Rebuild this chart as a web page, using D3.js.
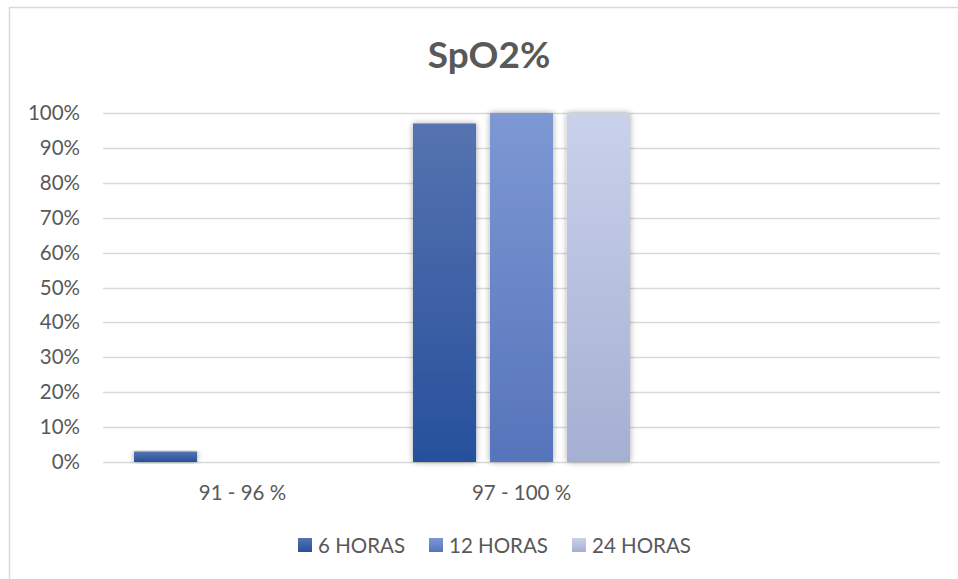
<!DOCTYPE html>
<html>
<head>
<meta charset="utf-8">
<script src="https://cdn.jsdelivr.net/npm/d3@7/dist/d3.min.js"></script>
<style>
  html, body { margin: 0; padding: 0; background: #fff; }
  svg { display: block; }
  text { font-family: Lato, "Open Sans", sans-serif; fill: #595959; }
</style>
</head>
<body>
<svg id="chart" width="958" height="579"></svg>
<script>
const title = "SpO2%";
const categories = ["91 - 96 %", "97 - 100 %", ""];
const seriesNames = ["6 HORAS", "12 HORAS", "24 HORAS"];
const values6h  = [0.03, 0.97, null];
const values12h = [0, 1.00, null];
const values24h = [0, 1.00, null];
const yTicks = [0, 0.1, 0.2, 0.3, 0.4, 0.5, 0.6, 0.7, 0.8, 0.9, 1.0];

const series = [
  { name: seriesNames[0], values: values6h,  top: "#5673b0", bottom: "#27509c" },
  { name: seriesNames[1], values: values12h, top: "#7d98d3", bottom: "#5674bb" },
  { name: seriesNames[2], values: values24h, top: "#c9d1eb", bottom: "#a5afd2" }
];

const svg = d3.select("#chart");
const W = 958, H = 579;
const margin = { left: 103, right: 18, top: 113, bottom: 117 };
const plotW = W - margin.left - margin.right;
const plotH = H - margin.top - margin.bottom;
const FONT = 20.5;

const defs = svg.append("defs");
series.forEach((s, i) => {
  const g = defs.append("linearGradient").attr("id", "grad" + i)
    .attr("x1", 0).attr("y1", 0).attr("x2", 0).attr("y2", 1);
  g.append("stop").attr("offset", "0%").attr("stop-color", s.top);
  g.append("stop").attr("offset", "100%").attr("stop-color", s.bottom);
});
const f = defs.append("filter").attr("id", "shadow")
  .attr("x", "-30%").attr("y", "-10%").attr("width", "160%").attr("height", "120%");
f.append("feGaussianBlur").attr("in", "SourceAlpha").attr("stdDeviation", 3).attr("result", "b");
f.append("feComponentTransfer").attr("in", "b").attr("result", "s")
  .append("feFuncA").attr("type", "linear").attr("slope", 0.35);
const fm = f.append("feMerge");
fm.append("feMergeNode").attr("in", "s");
fm.append("feMergeNode").attr("in", "SourceGraphic");

// chart border
svg.append("rect").attr("x", 9.5).attr("y", 7.5).attr("width", 960).attr("height", 590)
  .attr("fill", "#fff").attr("stroke", "#d9d9d9").attr("stroke-width", 1.5);

const g = svg.append("g").attr("transform", `translate(${margin.left},${margin.top})`);

const x0 = d3.scaleBand().domain(categories).range([0, plotW]).paddingInner(0).paddingOuter(0);
const groupInner = 217 / 279;
const x1 = d3.scaleBand().domain(seriesNames)
  .range([0, x0.bandwidth() * groupInner]).paddingInner(0.18).paddingOuter(0);
const groupOffset = x0.bandwidth() * (1 - groupInner) / 2;
const y = d3.scaleLinear().domain([0, 1]).range([plotH, 0]);

// gridlines
g.append("g").selectAll("line").data(yTicks).join("line")
  .attr("x1", 0).attr("x2", plotW)
  .attr("y1", d => Math.round(y(d)) + 0.5).attr("y2", d => Math.round(y(d)) + 0.5)
  .attr("stroke", "#d9d9d9").attr("stroke-width", 1.3);

// y axis labels
const yAxis = d3.axisLeft(y).tickValues(yTicks).tickFormat(d3.format(".0%")).tickSize(0).tickPadding(23);
const ya = g.append("g").call(yAxis);
ya.select(".domain").remove();
ya.selectAll("text").attr("font-size", FONT).attr("fill", "#595959")
  .style("font-family", "Lato, 'Open Sans', sans-serif");

// bars
series.forEach((s, i) => {
  g.append("g").selectAll("rect")
    .data(categories.map((c, j) => ({ c, v: s.values[j] })).filter(d => d.v != null && d.v > 0))
    .join("rect")
    .attr("x", d => x0(d.c) + groupOffset + x1(s.name))
    .attr("y", d => y(d.v))
    .attr("width", x1.bandwidth())
    .attr("height", d => y(0) - y(d.v))
    .attr("fill", `url(#grad${i})`)
    .attr("filter", "url(#shadow)");
});

// x axis labels
const xAxis = d3.axisBottom(x0).tickSize(0).tickPadding(23);
const xa = g.append("g").attr("transform", `translate(0,${plotH})`).call(xAxis);
xa.select(".domain").remove();
xa.selectAll("text").attr("font-size", FONT).attr("fill", "#595959")
  .style("font-family", "Lato, 'Open Sans', sans-serif");

// title
svg.append("text").attr("x", 489).attr("y", 68).attr("text-anchor", "middle")
  .attr("font-size", 37).attr("font-weight", "bold").attr("fill", "#595959")
  .text(title);

// legend
const legendX = [298, 429, 572];
const lg = svg.append("g");
series.forEach((s, i) => {
  const item = lg.append("g").attr("transform", `translate(${legendX[i]},538)`);
  item.append("rect").attr("width", 14).attr("height", 14).attr("fill", `url(#grad${i})`);
  item.append("text").attr("x", 20).attr("y", 14.5).attr("font-size", FONT).attr("fill", "#595959").text(s.name);
});
</script>
</body>
</html>
